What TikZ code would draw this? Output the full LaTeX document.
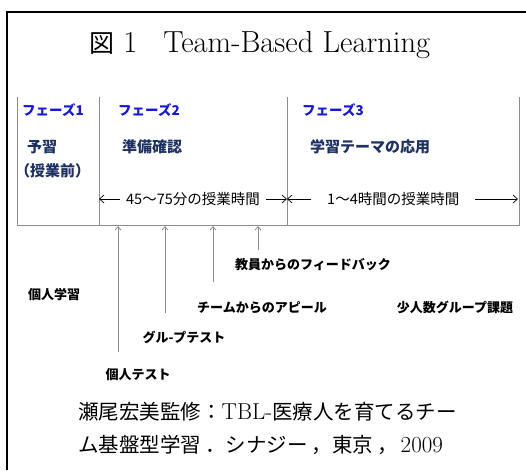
\documentclass[tikz,border=0pt]{standalone}
\usepackage{fontspec}
\usetikzlibrary{arrows.meta}
\newfontfamily\jp{Noto Sans CJK JP}
\definecolor{phaseblue}{RGB}{20,20,235}
\definecolor{phasenavy}{RGB}{28,48,100}
\definecolor{boxgray}{RGB}{140,140,140}
\tikzset{
  phase/.style={text=phaseblue, font=\jp\bfseries\fontsize{13.5}{16}\selectfont},
  stage/.style={text=phasenavy, font=\jp\bfseries\fontsize{15}{18}\selectfont},
  span/.style={font=\jp\fontsize{14.5}{17}\selectfont},
  item/.style={font=\jp\bfseries\fontsize{13}{16}\selectfont},
  >={Straight Barb[length=4.5pt,width=8pt]},
}
\newcommand\jpsrc{\jp\fontsize{20.5}{24}\selectfont}
\begin{document}
\begin{tikzpicture}[x=1pt,y=-1pt]
  \useasboundingbox (0,0) rectangle (526,470);

  % outer frame
  \draw[line width=1.5pt] (7,470) -- (7,12) -- (526,12);

  \node[font=\fontsize{30.5}{35}\selectfont, anchor=west, inner sep=0] (title) at (89,45)
    {{\jp\fontsize{25}{30}\selectfont 図} 1\hspace{0.85em}Team-Based Learning};

  % phase box
  \foreach \n/\x in {0/17,1/99,2/287,3/519} {
    \coordinate (t\n) at (\x,97);
    \coordinate (b\n) at (\x,225);
  }
  \begin{scope}[boxgray, line width=0.9pt]
    \draw (t0) -- (b0) -- (b3) -- (t3);
    \draw (t1) -- (b1);
    \draw (t2) -- (b2);
  \end{scope}

  \begin{scope}[every node/.style={anchor=west, inner sep=0}]
    \node[phase] (f1) at (22,110)  {フェーズ1};
    \node[phase] (f2) at (118,110) {フェーズ2};
    \node[phase] (f3) at (302,110) {フェーズ3};
    \node[stage] (s1) at (27,147)  {予習};
    \node[stage] (s1b) at (15,171) {（授業前）};
    \node[stage] (s2) at (122,147) {準備確認};
    \node[stage] (s3) at (310,147) {学習テーマの応用};
  \end{scope}

  % time spans
  \coordinate (h1) at (99,199);
  \coordinate (h2) at (287,199);
  \coordinate (h3) at (518,199);
  \draw[<->, line width=0.7pt] (h1) -- node[span, fill=white, inner xsep=6pt, inner ysep=0]
    {45～75分の授業時間} (h2);
  \draw[<->, line width=0.7pt] (h2) -- node[span, fill=white, inner xsep=16pt, inner ysep=0, pos=.46]
    {1～4時間の授業時間} (h3);

  % events in phase 2
  \foreach \n/\x/\y in {1/118/352,2/165/313,3/213/282,4/258/250} {
    \coordinate (u\n) at (\x,\y);
    \coordinate (v\n) at (\x,226);
    \draw[-{Straight Barb[length=3.5pt,width=6pt]}, boxgray, line width=0.8pt] (u\n) -- (v\n);
  }

  \begin{scope}[every node/.style={item, inner sep=0}]
    \node (e4) at (313,265) {教員からのフィードバック};
    \node (e3) at (262,308) {チームからのアピール};
    \node (e2) at (184,337) {グル-プテスト};
    \node (e1) at (138,375) {個人テスト};
    \node (k1) at (54,295)  {個人学習};
    \node (k3) at (455,307) {少人数グループ課題};
  \end{scope}

  % source
  \begin{scope}[every node/.style={anchor=west, inner sep=0, font=\fontsize{23}{26}\selectfont}]
    \node (src1) at (78,412) {{\jpsrc 瀬尾宏美監修：}TBL-{\jpsrc 医療人を育てるチー}};
    \node (src2) at (78,445) {{\jpsrc ム基盤型学習\hspace{4pt}．シナジー\hspace{4pt}，東京\hspace{4pt}，}\hspace{3pt}2009};
  \end{scope}
\end{tikzpicture}
\end{document}
